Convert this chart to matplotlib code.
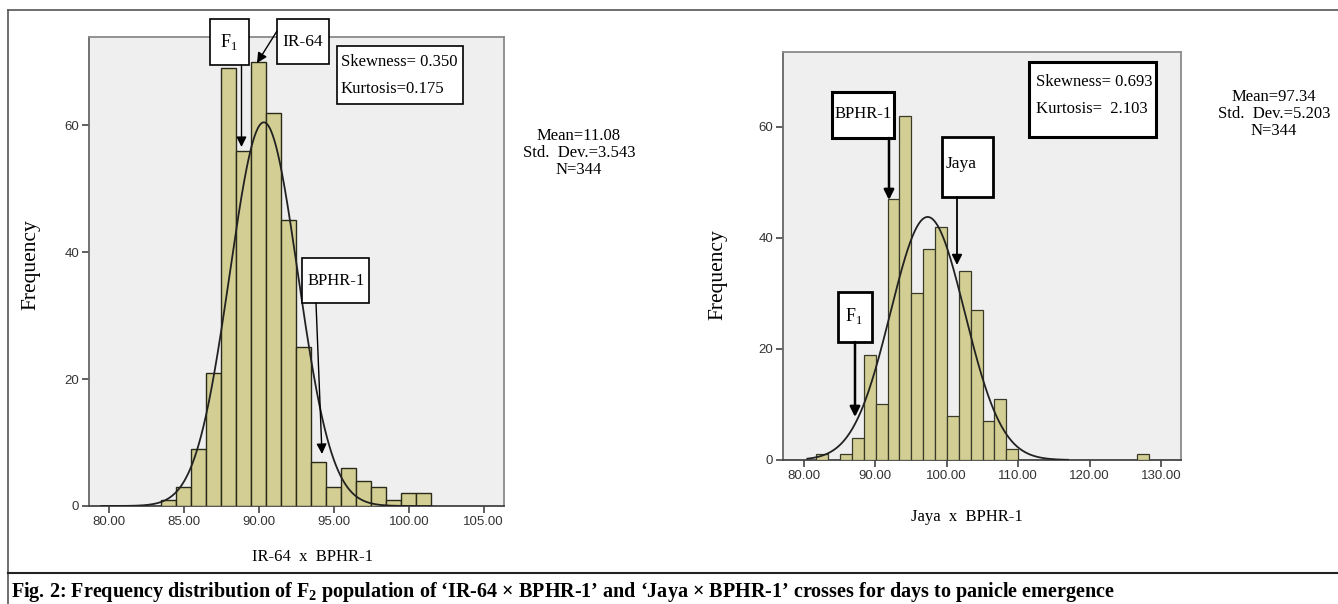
import numpy as np
import matplotlib
matplotlib.use("Agg")
import matplotlib.pyplot as plt
from matplotlib.patches import Rectangle
from matplotlib import font_manager

# ---------------- data ----------------
left_bin_centers = [84, 85, 86, 87, 88, 89, 90, 91, 92, 93, 94, 95, 96, 97, 98, 99, 100, 101]
left_counts = [1, 3, 9, 21, 69, 56, 70, 62, 45, 25, 7, 3, 6, 4, 3, 1, 2, 2]
left_bin_width = 1.0
left_curve = dict(mean=90.33, sd=2.27, n=344)

right_bin_start = 81.78
right_bin_width = 1.66
right_counts = [1, 0, 1, 4, 19, 10, 47, 62, 30, 38, 42, 8, 34, 27, 7, 11, 2,
                0, 0, 0, 0, 0, 0, 0, 0, 0, 0, 1]
right_curve = dict(mean=97.34, sd=5.203, n=344)

left_xticks = [80, 85, 90, 95, 100, 105]
right_xticks = [80, 90, 100, 110, 120, 130]
yticks = [0, 20, 40, 60]

left_xlabel = "IR-64  x  BPHR-1"
right_xlabel = "Jaya  x  BPHR-1"
left_stats = "Mean=11.08\nStd.  Dev.=3.543\nN=344"
right_stats = "Mean=97.34\nStd.  Dev.=5.203\nN=344"
left_sk = ["Skewness= 0.350", "Kurtosis=0.175"]
right_sk = ["Skewness= 0.693", "Kurtosis=  2.103"]
caption = ("Fig. 2: Frequency distribution of F$_\\mathbf{2}$ population of \u2018IR-64 \u00d7 BPHR-1\u2019 "
           "and \u2018Jaya \u00d7 BPHR-1\u2019 crosses for days to panicle emergence")

# ---------------- style ----------------
W, H = 1338, 604
BAR = "#D3CE93"
BG = "#EFEFEF"
SERIF = ["Liberation Serif", "DejaVu Serif"]
installed = {f.name for f in font_manager.fontManager.ttflist}
TICKF = [f for f in ["Liberation Sans Narrow", "Liberation Sans", "DejaVu Sans"] if f in installed]
plt.rcParams["mathtext.fontset"] = "custom"
plt.rcParams["mathtext.rm"] = "Liberation Serif"
plt.rcParams["mathtext.bf"] = "Liberation Serif:bold"

fig = plt.figure(figsize=(W / 100, H / 100), dpi=100)


def add_axes_px(x0, y0, x1, y1):
    return fig.add_axes([x0 / W, (H - y1) / H, (x1 - x0) / W, (y1 - y0) / H])


def style_axes(ax, xlim, ylim, xticks):
    ax.set_facecolor(BG)
    ax.set_xlim(*xlim)
    ax.set_ylim(*ylim)
    ax.set_xticks(xticks)
    ax.set_xticklabels([f"{t:.2f}" for t in xticks], fontfamily=TICKF, fontsize=9.5, color="#333333")
    ax.set_yticks(yticks)
    ax.set_yticklabels([str(t) for t in yticks], fontfamily=TICKF, fontsize=9.5, color="#333333")
    ax.tick_params(direction="out", length=5, width=1.2, color="#444444", pad=2)
    for s in ax.spines.values():
        s.set_color("#8a8a8a")
        s.set_linewidth(1.3)
    ax.spines["bottom"].set_color("#444444")
    ax.spines["left"].set_color("#666666")


def normal_curve(ax, params, bw, xlim):
    x = np.linspace(xlim[0], xlim[1], 600)
    y = params["n"] * bw / (params["sd"] * np.sqrt(2 * np.pi)) * np.exp(-0.5 * ((x - params["mean"]) / params["sd"]) ** 2)
    ax.plot(x, y, color="#222222", lw=1.3, zorder=4)


# left histogram
axL = add_axes_px(89, 37, 504, 506)
xlimL = (78.67, 106.35)
style_axes(axL, xlimL, (0, 73.9), left_xticks)
axL.bar(left_bin_centers, left_counts, width=left_bin_width, color=BAR,
        edgecolor="#2a2a1a", linewidth=1.0, zorder=3)
normal_curve(axL, left_curve, left_bin_width, (79.5, 101.5))

# right histogram
axR = add_axes_px(783, 52, 1181, 460)
xlimR = (77.1, 132.8)
style_axes(axR, xlimR, (0, 73.5), right_xticks)
right_edges = right_bin_start + right_bin_width * np.arange(len(right_counts))
mask = np.array(right_counts) > 0
axR.bar(right_edges[mask], np.array(right_counts)[mask], width=right_bin_width, align="edge",
        color=BAR, edgecolor="#3a3a2a", linewidth=0.9, zorder=3)
normal_curve(axR, right_curve, right_bin_width, (80.5, 117))

# ---------------- overlay in pixel coords ----------------
ov = fig.add_axes([0, 0, 1, 1], zorder=10)
ov.set_xlim(0, W)
ov.set_ylim(H, 0)
ov.axis("off")
ov.patch.set_alpha(0)

# frame lines
ov.plot([8, W], [10, 10], color="#555555", lw=1.2)
ov.plot([8, 8], [10, H], color="#555555", lw=1.2)
ov.plot([8, W], [573, 573], color="#222222", lw=1.5)


def box(x0, y0, x1, y1, lw=1.2):
    ov.add_patch(Rectangle((x0, y0), x1 - x0, y1 - y0, facecolor="white",
                           edgecolor="black", linewidth=lw, zorder=5))


def arrow(x0, y0, x1, y1, lw=1.0, hw=6):
    ov.annotate("", xy=(x1, y1), xytext=(x0, y0),
                arrowprops=dict(arrowstyle=f"-|>,head_width={hw/20:.2f},head_length={hw/10:.2f}",
                                color="black", lw=lw, shrinkA=0, shrinkB=0), zorder=6)


TXT = dict(fontfamily=SERIF, color="black", zorder=7)

# left annotations
box(210, 19, 249, 65)
ov.text(229, 42, "F$_{\\mathregular{1}}$", fontsize=13, ha="center", va="center", **TXT)
arrow(241.5, 65, 241.5, 147, lw=1.0)
box(277, 19, 329, 64)
ov.text(303, 42, "IR-64", fontsize=12.5, ha="center", va="center", **TXT)
arrow(277, 31, 257, 63, lw=1.0)
box(337, 46, 463, 104)
ov.text(341, 62, left_sk[0], fontsize=12, ha="left", va="center", **TXT)
ov.text(341, 89, left_sk[1], fontsize=12, ha="left", va="center", **TXT)
box(302, 258, 369, 303)
ov.text(336, 281, "BPHR-1", fontsize=12, ha="center", va="center", **TXT)
arrow(316, 303, 322, 454, lw=1.0)

# right annotations
box(1029, 62, 1156, 137, lw=2.2)
ov.text(1036, 82, right_sk[0], fontsize=12, ha="left", va="center", **TXT)
ov.text(1036, 109, right_sk[1], fontsize=12, ha="left", va="center", **TXT)
box(832, 92, 894, 138, lw=2.2)
ov.text(863, 114, "BPHR-1", fontsize=12, ha="center", va="center", **TXT)
arrow(889, 138, 889, 200, lw=1.8)
box(942, 137, 993, 197, lw=2.0)
ov.text(961, 164, "Jaya", fontsize=12.5, ha="center", va="center", **TXT)
arrow(957, 197, 957, 265, lw=1.3)
box(838, 292, 872, 342, lw=2.0)
ov.text(854, 316, "F$_{\\mathregular{1}}$", fontsize=13, ha="center", va="center", **TXT)
arrow(855, 342, 855, 417, lw=1.8)

# stats text
ov.text(579, 153, left_stats, fontsize=12, ha="center", va="center", linespacing=1.1, **TXT)
ov.text(1274, 114, right_stats, fontsize=12, ha="center", va="center", linespacing=1.1, **TXT)

# axis labels
ov.text(31, 265, "Frequency", fontsize=15.5, rotation=90, ha="center", va="center", **TXT)
ov.text(718, 275, "Frequency", fontsize=15.5, rotation=90, ha="center", va="center", **TXT)
ov.text(312, 557, left_xlabel, fontsize=12, ha="center", va="center", **TXT)
ov.text(967, 517, right_xlabel, fontsize=12, ha="center", va="center", **TXT)

# caption
ov.text(11, 592, caption, fontsize=14.5, fontweight="bold", ha="left", va="center", **TXT)

fig.savefig("out.png", dpi=100)
